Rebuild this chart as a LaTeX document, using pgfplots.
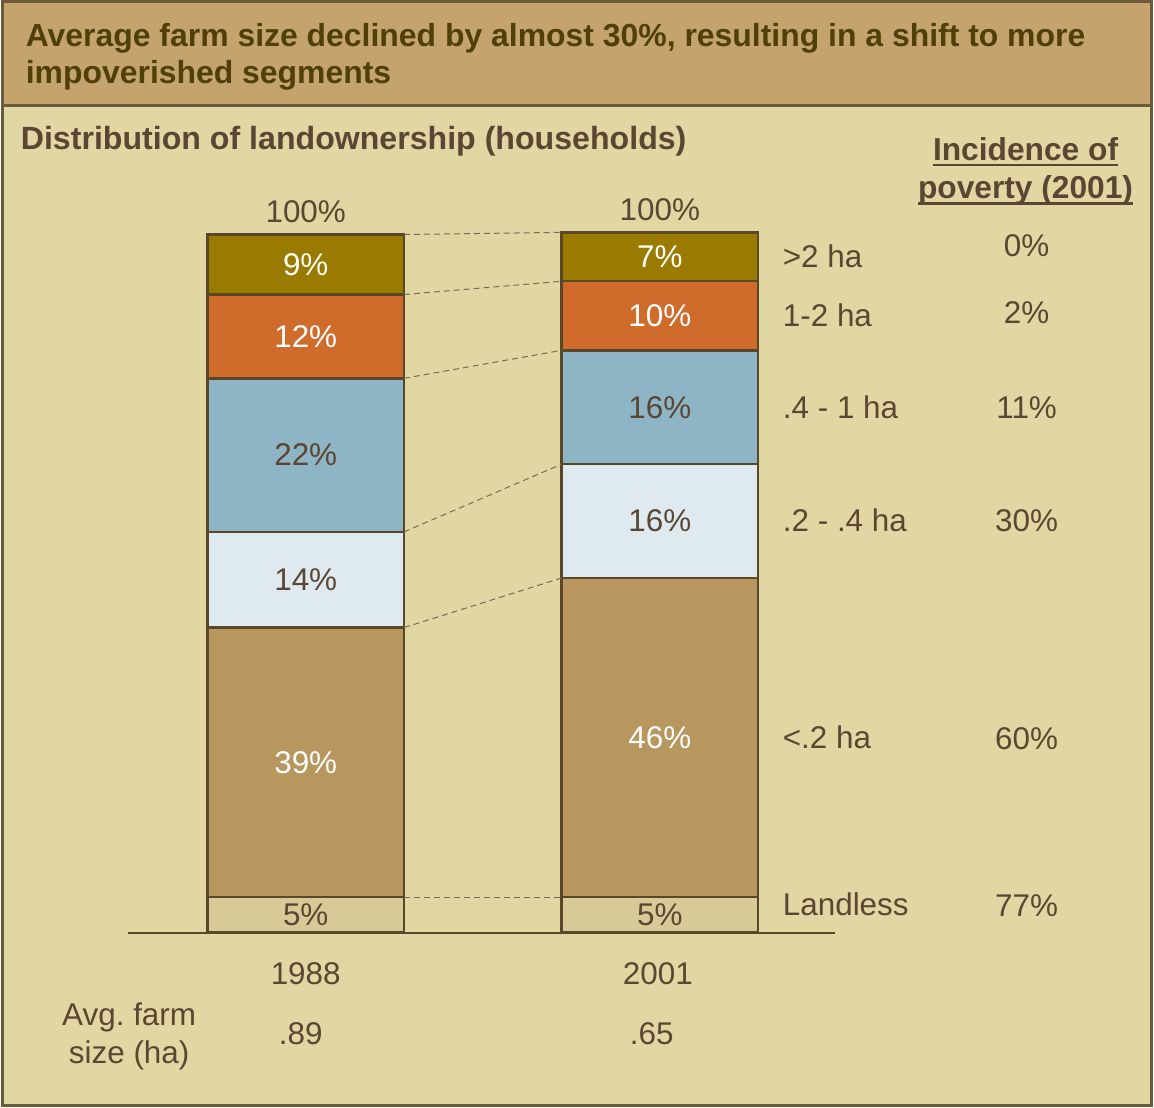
\documentclass[border=0pt]{standalone}
\usepackage{pgfplots}
\pgfplotsset{compat=1.18}
\usepackage{pgfplotstable}
\usepackage{fontspec}
\setmainfont{Liberation Sans}
\definecolor{bgmain}{HTML}{E1D7A3}
\definecolor{bgtitle}{HTML}{C4A46C}
\definecolor{titletxt}{HTML}{4F3F08}
\definecolor{txt}{HTML}{5A4632}
\definecolor{frame}{HTML}{6B5A3C}
\definecolor{barline}{HTML}{5A4628}
\definecolor{cgt}{HTML}{9A7B00}
\definecolor{ca12}{HTML}{CF6B2B}
\definecolor{ca041}{HTML}{8DB5C6}
\definecolor{ca0204}{HTML}{DFEAF0}
\definecolor{clt}{HTML}{B8975E}
\definecolor{cland}{HTML}{D6CB97}
\definecolor{dashc}{HTML}{7A6A50}

\pgfplotstableread{
x landless lt a0204 a041 a12 gt
0 5.1 38.6 13.7 22.0 12.0 8.6
1 5.1 45.7 16.3 16.3 9.9 7.0
}\landdata

\newcommand\ulbox[1]{\setbox0\hbox{#1}\leavevmode\rlap{\rule[-3pt]{\wd0}{1.3pt}}\box0}

\tikzset{lbl/.style={font=\fontsize{15.75pt}{18pt}\selectfont, text=txt, inner sep=0pt}}
\pgfplotsset{
  commonax/.style={
    scale only axis, width=577pt, height=555pt,
    xmin=-0.8592, xmax=2.3915, ymin=-24.986, ymax=133.586,
    axis lines=none, ticks=none, clip=false,
  },
}

\begin{document}
\begin{tikzpicture}
% backgrounds
\fill[bgmain] (0,0) rectangle (577pt,555pt);
\fill[bgtitle] (0,502pt) rectangle (577pt,555pt);

\begin{axis}[commonax,
  ybar stacked, bar width=98.5pt,
  every axis plot/.append style={draw=barline, line width=1.2pt},
]
\addplot[fill=cland] table[x=x,y=landless]{\landdata};
\addplot[fill=clt] table[x=x,y=lt]{\landdata};
\addplot[fill=ca0204] table[x=x,y=a0204]{\landdata};
\addplot[fill=ca041] table[x=x,y=a041]{\landdata};
\addplot[fill=ca12] table[x=x,y=a12]{\landdata};
\addplot[fill=cgt] table[x=x,y=gt]{\landdata};
\end{axis}

\begin{axis}[commonax]
% connector lines
\addplot[dashc, densely dashed, line width=0.5pt] coordinates {(0.2775,100) (0.7225,100.3)};
\addplot[dashc, densely dashed, line width=0.5pt] coordinates {(0.2775,91.4) (0.7225,93.3)};
\addplot[dashc, densely dashed, line width=0.5pt] coordinates {(0.2775,79.4) (0.7225,83.4)};
\addplot[dashc, densely dashed, line width=0.5pt] coordinates {(0.2775,57.4) (0.7225,67.1)};
\addplot[dashc, densely dashed, line width=0.5pt] coordinates {(0.2775,43.7) (0.7225,50.8)};
\addplot[dashc, densely dashed, line width=0.5pt] coordinates {(0.2775,5.1) (0.7225,5.1)};
% baseline
\draw[barline, line width=1.1pt] (axis cs:-0.5014,0) -- (axis cs:1.4958,0);

% segment labels left
\node[lbl] at (axis cs:0,2.55) {5\%};
\node[lbl,text=white] at (axis cs:0,24.4) {39\%};
\node[lbl] at (axis cs:0,50.55) {14\%};
\node[lbl] at (axis cs:0,68.4) {22\%};
\node[lbl,text=white] at (axis cs:0,85.4) {12\%};
\node[lbl,text=white] at (axis cs:0,95.7) {9\%};
% segment labels right
\node[lbl] at (axis cs:1,2.55) {5\%};
\node[lbl,text=white] at (axis cs:1,27.95) {46\%};
\node[lbl] at (axis cs:1,58.95) {16\%};
\node[lbl] at (axis cs:1,75.25) {16\%};
\node[lbl,text=white] at (axis cs:1,88.35) {10\%};
\node[lbl,text=white] at (axis cs:1,96.8) {7\%};
% totals
\node[lbl,anchor=base] at (axis cs:0,101.71) {100\%};
\node[lbl,anchor=base] at (axis cs:1,102.0) {100\%};
% category labels
\node[lbl,anchor=base west] at (axis cs:1.3465,95.29) {>2 ha};
\node[lbl,anchor=base west] at (axis cs:1.3465,86.86) {1-2 ha};
\node[lbl,anchor=base west] at (axis cs:1.3465,73.71) {.4 - 1 ha};
\node[lbl,anchor=base west] at (axis cs:1.3465,57.43) {.2 - .4 ha};
\node[lbl,anchor=base west] at (axis cs:1.3465,26.43) {<.2 ha};
\node[lbl,anchor=base west] at (axis cs:1.3465,2.43) {Landless};
% poverty
\node[lbl,anchor=base] at (axis cs:2.036,96.86) {0\%};
\node[lbl,anchor=base] at (axis cs:2.036,87.29) {2\%};
\node[lbl,anchor=base] at (axis cs:2.036,73.71) {11\%};
\node[lbl,anchor=base] at (axis cs:2.036,57.43) {30\%};
\node[lbl,anchor=base] at (axis cs:2.036,26.29) {60\%};
\node[lbl,anchor=base] at (axis cs:2.036,2.29) {77\%};
\node[lbl,anchor=base,font=\fontsize{15.9pt}{18pt}\selectfont\bfseries] at (axis cs:2.033,110.6) {\ulbox{Incidence of}};
\node[lbl,anchor=base,font=\fontsize{15.9pt}{18pt}\selectfont\bfseries] at (axis cs:2.033,105.14) {\ulbox{poverty (2001)}};
% years and farm size
\node[lbl,anchor=base] at (axis cs:0,-7.43) {1988};
\node[lbl,anchor=base] at (axis cs:0.9944,-7.43) {2001};
\node[lbl,anchor=base] at (axis cs:-0.4986,-13.29) {Avg.\ farm};
\node[lbl,anchor=base] at (axis cs:-0.4986,-18.71) {size (ha)};
\node[lbl,anchor=base] at (axis cs:-0.0141,-16.0) {.89};
\node[lbl,anchor=base] at (axis cs:0.977,-16.0) {.65};
% titles
\node[lbl,anchor=base west,text=titletxt,font=\fontsize{16pt}{18pt}\selectfont\bfseries] at (axis cs:-0.7915,126.87) {Average farm size declined by almost 30\%, resulting in a shift to more};
\node[lbl,anchor=base west,text=titletxt,font=\fontsize{16pt}{18pt}\selectfont\bfseries] at (axis cs:-0.7915,121.59) {impoverished segments};
\node[lbl,anchor=base west,font=\fontsize{16.1pt}{18pt}\selectfont\bfseries] at (axis cs:-0.8056,112.16) {Distribution of landownership (households)};
\end{axis}

% frame
\draw[frame, line width=1.5pt] (0,502pt) -- (577pt,502pt);
\draw[frame, line width=1.5pt] (0.75pt,0.75pt) rectangle (576.25pt,554.25pt);
\end{tikzpicture}
\end{document}
